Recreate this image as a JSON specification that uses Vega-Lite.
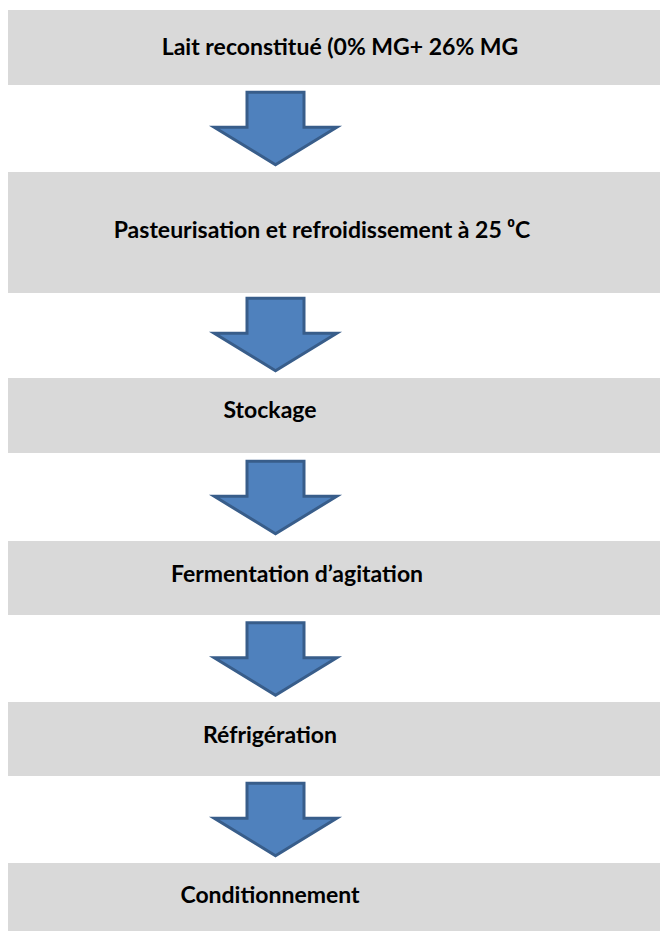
{
  "$schema": "https://vega.github.io/schema/vega-lite/v6.json",
  "width": 660,
  "height": 931,
  "padding": 0,
  "autosize": {"type": "none"},
  "background": "white",
  "config": {"view": {"stroke": null}},
  "datasets": {
    "steps": [
      {"step": 1, "label": "Lait reconstitué (0% MG+ 26% MG", "left": 8, "right": 660, "top": 10, "bottom": 85, "tx": 340, "ty": 55},
      {"step": 2, "label": "Pasteurisation et refroidissement à 25 ⁰C", "left": 8, "right": 660, "top": 172, "bottom": 293, "tx": 322, "ty": 238},
      {"step": 3, "label": "Stockage", "left": 8, "right": 660, "top": 378, "bottom": 453, "tx": 270, "ty": 418},
      {"step": 4, "label": "Fermentation d’agitation", "left": 8, "right": 660, "top": 541, "bottom": 615, "tx": 297, "ty": 582},
      {"step": 5, "label": "Réfrigération", "left": 8, "right": 660, "top": 702, "bottom": 776, "tx": 270, "ty": 743},
      {"step": 6, "label": "Conditionnement", "left": 8, "right": 660, "top": 863, "bottom": 935, "tx": 270, "ty": 903}
    ],
    "arrows": [
      {"from": 1, "cx": 275.5, "cy": 128.5},
      {"from": 2, "cx": 275.5, "cy": 334.5},
      {"from": 3, "cx": 275.5, "cy": 497.5},
      {"from": 4, "cx": 275.5, "cy": 659},
      {"from": 5, "cx": 275.5, "cy": 819.5}
    ]
  },
  "layer": [
    {
      "data": {"name": "steps"},
      "mark": {"type": "rect", "fill": "#d9d9d9"},
      "encoding": {
        "x": {"field": "left", "type": "quantitative", "scale": {"domain": [0, 660], "nice": false, "zero": false}, "axis": null},
        "x2": {"field": "right"},
        "y": {"field": "top", "type": "quantitative", "scale": {"domain": [0, 931], "nice": false, "zero": false, "reverse": true}, "axis": null},
        "y2": {"field": "bottom"}
      }
    },
    {
      "data": {"name": "steps"},
      "mark": {"type": "text", "font": "Lato", "fontWeight": "bold", "fontSize": 23, "color": "#000000", "align": "center", "baseline": "alphabetic"},
      "encoding": {
        "x": {"field": "tx", "type": "quantitative"},
        "y": {"field": "ty", "type": "quantitative"},
        "text": {"field": "label"}
      }
    },
    {
      "data": {"name": "arrows"},
      "mark": {
        "type": "point",
        "filled": true,
        "shape": "M-0.456,-0.58L0.456,-0.58L0.456,-0.02L0.98,-0.02L0,0.58L-0.98,-0.02L-0.456,-0.02Z",
        "size": 15625,
        "fill": "#4f81bd",
        "stroke": "#385d8a",
        "strokeWidth": 3,
        "opacity": 1
      },
      "encoding": {
        "x": {"field": "cx", "type": "quantitative"},
        "y": {"field": "cy", "type": "quantitative"}
      }
    }
  ]
}
